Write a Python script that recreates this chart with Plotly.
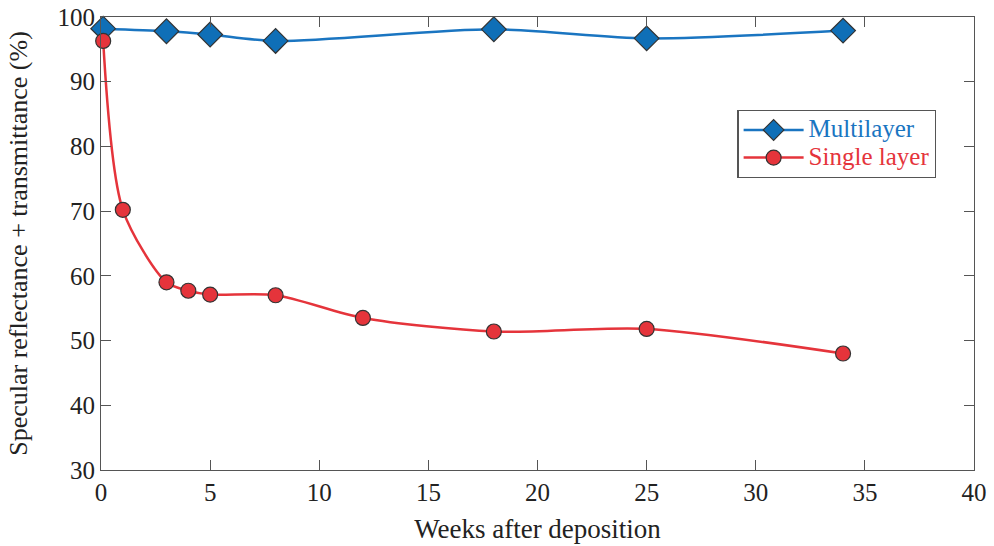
import plotly.graph_objects as go

multi_weeks = [0.1, 3.0, 5.0, 8.0, 18.0, 25.0, 34.0]
multi_vals = [98.2, 97.8, 97.3, 96.3, 98.1, 96.7, 97.9]

single_weeks = [0.1, 1.0, 3.0, 4.0, 5.0, 8.0, 12.0, 18.0, 25.0, 34.0]
single_vals = [96.3, 70.2, 59.0, 57.7, 57.1, 57.0, 53.5, 51.4, 51.8, 48.0]

x_ticks = [0, 5, 10, 15, 20, 25, 30, 35, 40]
y_ticks = [30, 40, 50, 60, 70, 80, 90, 100]

BLUE = "#1a75c1"
RED = "#e5343b"
FONT = "Liberation Serif"

fig = go.Figure()
fig.add_trace(go.Scatter(
    x=multi_weeks, y=multi_vals, mode="lines+markers",
    name="<span style='color:%s;font-size:25px'>Multilayer</span>" % BLUE,
    line=dict(color=BLUE, width=2.5, shape="spline", smoothing=0.8),
    marker=dict(symbol="diamond", size=19, color="#0f6fb7",
                line=dict(color="#333333", width=1.2)),
    cliponaxis=False,
))
fig.add_trace(go.Scatter(
    x=single_weeks, y=single_vals, mode="lines+markers",
    name="<span style='color:%s;font-size:25px'>Single layer</span>" % RED,
    line=dict(color=RED, width=2.5, shape="spline", smoothing=0.8),
    marker=dict(symbol="circle", size=15, color=RED,
                line=dict(color="#333333", width=1.2)),
    cliponaxis=False,
))

axis_common = dict(
    showgrid=False, zeroline=False, showline=True, linecolor="#555555",
    linewidth=1.2, mirror="ticks", ticks="inside", ticklen=10,
    tickcolor="#555555", tickwidth=1.2, automargin=False,
    ticklabeloverflow="allow",
    tickfont=dict(family=FONT, size=25, color="#222222"),
)

fig.update_layout(
    width=994, height=546,
    margin=dict(l=101, r=20, t=17, b=76),
    paper_bgcolor="white", plot_bgcolor="white",
    font=dict(family=FONT, color="#222222"),
    xaxis=dict(range=[0, 40], tickvals=x_ticks,
               title=dict(text="Weeks after deposition",
                          font=dict(family=FONT, size=27), standoff=14),
               **axis_common),
    yaxis=dict(range=[30, 100], tickvals=y_ticks,
               title=dict(text="Specular reflectance + transmittance (%)",
                          font=dict(family=FONT, size=26), standoff=22),
               **axis_common),
    legend=dict(x=0.729, y=0.795, xanchor="left", yanchor="top",
                bgcolor="white", bordercolor="#555555", borderwidth=1.2,
                font=dict(family=FONT, size=19),
                itemwidth=60, tracegroupgap=0),
    showlegend=True,
)

fig.write_html("out.html", config={"displayModeBar": False},
               post_script="document.body.style.margin='0';")
